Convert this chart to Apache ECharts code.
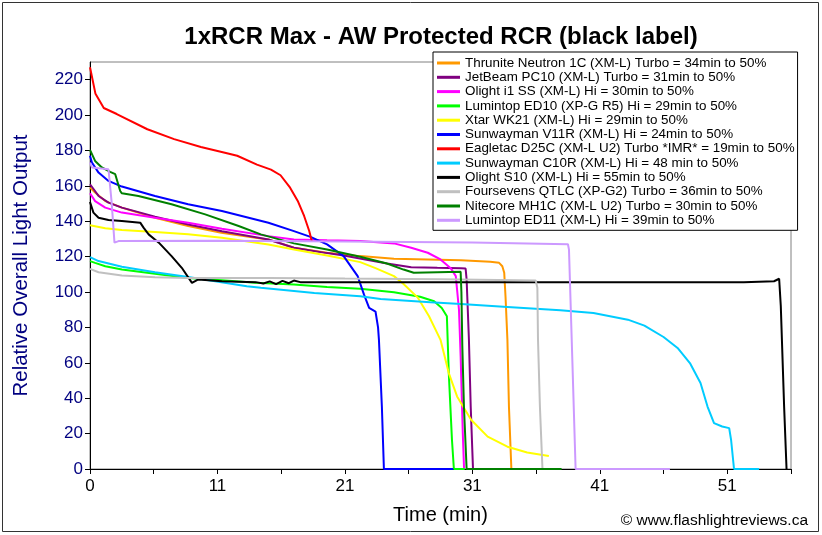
<!DOCTYPE html>
<html>
<head>
<meta charset="utf-8">
<script src="https://cdn.jsdelivr.net/npm/echarts@6/dist/echarts.min.js"></script>
<style>
html,body{margin:0;padding:0;background:#fff;}
#chart{width:822px;height:535px;}
</style>
</head>
<body>
<div id="chart"></div>
<script>
// ---- Data (x in axis units: 10 units between labelled ticks; y = relative output) ----
const xTickLabels = ["0", "11", "21", "31", "41", "51"];
const seriesNames = [
  "Thrunite Neutron 1C (XM-L) Turbo = 34min to 50%",
  "JetBeam PC10 (XM-L) Turbo = 31min to 50%",
  "Olight i1 SS (XM-L) Hi = 30min to 50%",
  "Lumintop ED10 (XP-G R5) Hi = 29min to 50%",
  "Xtar WK21 (XM-L) Hi = 29min to 50%",
  "Sunwayman V11R (XM-L) Hi = 24min to 50%",
  "Eagletac D25C (XM-L U2) Turbo *IMR* = 19min to 50%",
  "Sunwayman C10R (XM-L) Hi = 48 min to 50%",
  "Olight S10 (XM-L) Hi = 55min to 50%",
  "Foursevens QTLC (XP-G2) Turbo = 36min to 50%",
  "Nitecore MH1C (XM-L U2) Turbo = 30min to 50%",
  "Lumintop ED11 (XM-L) Hi = 39min to 50%"
];
const seriesColors = ["#ff9900","#800080","#ff00ff","#00ff00","#ffff00","#0000ff","#ff0000","#00ccff","#000000","#c0c0c0","#008000","#cc99ff"];

const thrunite = [[0,159],[0.4,156.2],[1.2,151.4],[2.5,147.7],[5.1,142],[7.7,137.3],[10.3,133.5],[13,130.7],[14,129.7],[16,125],[18.6,122.2],[21.2,120.3],[23.85,118.8],[26.5,118.4],[29.1,118],[31.4,117.1],[32.1,116.5],[32.35,114.6],[32.5,110.9],[32.6,97.6],[32.75,73],[32.87,35.3],[33.06,0]];
const jetbeam = [[0,160.9],[0.67,154.3],[1.45,150.5],[2.5,147.7],[5.1,142.6],[7.7,138.2],[10.35,134.4],[14,129.7],[16,125],[18.6,122],[19.9,120.7],[23.3,116.1],[25.2,114],[27.25,113.7],[29.1,113.5],[29.47,113.3],[29.55,107],[29.6,97.6],[29.73,73],[29.87,35.3],[30.05,0]];
const olightI1 = [[0,155.8],[0.4,151.4],[1.2,147.7],[2.5,144.9],[5.1,142],[7.7,139.2],[10.35,135.8],[14,131.6],[16,129.7],[18.6,129.2],[21.2,128.8],[23.85,127.5],[25.2,125],[26.5,122.2],[27.5,118.4],[28.3,113.5],[28.7,109],[28.8,101.4],[28.95,90],[29.08,63.6],[29.25,20],[29.35,0]];
const lumintopED10 = [[0,117.5],[0.4,116.5],[1.2,114.6],[2.5,112.7],[5.1,110.3],[7.7,108],[10.35,106.7],[13,105.2],[16,104.2],[18.6,102.9],[21.2,101.8],[23.85,99.9],[25.9,97.3],[27,94.8],[27.6,91],[28,86.3],[28.15,54.2],[28.4,16.4],[28.55,0],[29.4,0]];
const xtar = [[0,137.7],[1.2,136],[2.5,135],[5.1,133.9],[7.7,132.6],[10.35,130.7],[14,126.9],[16,124.1],[18.6,120.7],[21.2,116.9],[22.4,113.5],[23.85,109],[24.6,104.5],[25.7,97],[26.6,86.3],[27.5,73],[28.15,54.2],[28.8,41],[29.9,27.8],[31.2,18.3],[32.75,12.6],[34.3,9.3],[36,7.4]];
const sunwaymanV11R = [[0,177],[0.15,173.2],[0.67,167.5],[1.45,162.8],[2.5,159.6],[5.1,154.3],[7.7,149.6],[10.35,145.8],[14,139.2],[16,134.4],[17.3,131.2],[18.6,126.9],[19.9,120.3],[21,109],[21.5,98.5],[21.9,91],[22.4,89],[22.6,80],[22.67,73],[22.9,35.3],[23.06,0],[28.5,0]];
const eagletac = [[0,227],[0.43,212],[1.08,204],[2.1,200.6],[4.5,192],[6.6,186.4],[8.7,182],[10.5,178.9],[11.55,177],[13.1,172],[14.2,169.2],[14.95,166],[15.7,159],[16.3,151.5],[16.8,143],[17.2,134.5],[17.4,128.8]];
const sunwaymanC10R = [[0,119.7],[0.67,117.5],[2.5,114.3],[5.1,111.2],[7.7,108.5],[12.3,103.3],[13.4,102.4],[17.6,99.5],[21.2,97.6],[22.8,96.1],[26.7,94.2],[29.1,93.3],[32.75,91.6],[36.9,89.7],[39.5,88.2],[42.2,84.4],[43.5,81],[45,74.6],[46.1,68.4],[47.1,59.5],[47.9,48.6],[48.45,35.3],[48.96,25.9],[49.6,24],[50.15,23.1],[50.3,16.4],[50.53,0],[52.5,0]];
const olightS10 = [[0,150.9],[0.27,144.9],[0.67,142],[1.45,140.7],[2.5,140.1],[3.94,139.2],[4.2,136.4],[4.6,132.6],[5.4,127.9],[6.4,120.3],[7.2,113.7],[8,105.2],[8.5,107.1],[10.35,106.1],[13,105.6],[13.6,104.8],[14.1,106],[14.6,104.5],[15.1,106.3],[15.6,105],[16,106.5],[16.5,105.6],[26.7,105.6],[51.3,105.6],[53.67,106.1],[54.07,107.5],[54.2,92],[54.46,35.3],[54.65,0]];
const foursevens = [[0,113.1],[0.67,111.2],[2.5,109.3],[5.1,108.4],[7.7,108],[14,108],[20,107.6],[27.5,107.2],[34.97,106.5],[35.1,102.4],[35.15,73],[35.3,35.3],[35.5,0]];
const nitecore = [[0,180.3],[0.4,174.1],[0.93,170.4],[1.58,167.9],[1.98,166.6],[2.37,157.1],[2.5,155.8],[3.8,154.3],[6.4,149.6],[9.04,143.9],[11.66,137.3],[13.4,132.6],[16,127.5],[18.6,124],[21.2,119.9],[23.3,116.1],[24.6,112.7],[25.4,110.9],[27.25,111.2],[29.08,111.5],[29.14,100],[29.21,70],[29.34,35],[29.55,0],[37,0]];
const lumintopED11 = [[0,173.2],[0.15,170.4],[1.45,169.4],[1.7,150.5],[1.92,127.9],[2.24,128.8],[10,129],[20,128.6],[30,128],[37.5,127],[37.58,124],[37.85,60],[38.1,0],[45.5,0]];

const seriesData = [thrunite, jetbeam, olightI1, lumintopED10, xtar, sunwaymanV11R, eagletac, sunwaymanC10R, olightS10, foursevens, nitecore, lumintopED11];

const chart = echarts.init(document.getElementById('chart'), null, {renderer: 'canvas'});
const FONT = "'Liberation Sans', Arial, sans-serif";

const option = {
  backgroundColor: '#ffffff',
  animation: false,
  textStyle: {fontFamily: FONT},
  title: {
    text: '1xRCR Max - AW Protected RCR (black label)',
    left: 436, top: 20, textAlign: 'center',
    textStyle: {fontFamily: FONT, fontSize: 24, fontWeight: 'bold', color: '#000'}
  },
  grid: {left: 90, top: 62, right: 31, bottom: 66, show: true, borderColor: '#808080', borderWidth: 1, backgroundColor: '#fff'},
  legend: {
    orient: 'vertical', left: 433, top: 52,
    padding: [4, 3, 3, 4],
    icon: 'rect',
    itemWidth: 23, itemHeight: 3, itemGap: 0.3,
    backgroundColor: '#fff', borderColor: '#000', borderWidth: 1,
    textStyle: {fontFamily: FONT, fontSize: 13.4, color: '#000', lineHeight: 14},
    data: seriesNames
  },
  xAxis: {
    type: 'value', min: 0, max: 55, interval: 5,
    name: 'Time (min)', nameLocation: 'middle', nameGap: 36,
    nameTextStyle: {fontFamily: FONT, fontSize: 20, color: '#000'},
    axisLine: {show: true, onZero: false, lineStyle: {color: '#000', width: 1}},
    axisTick: {show: true, inside: false, length: 5, lineStyle: {color: '#000'}},
    axisLabel: {
      show: true, margin: 9, fontSize: 17, color: '#000', fontFamily: FONT,
      formatter: v => (Math.round(v) % 10 === 0 ? xTickLabels[Math.round(v) / 10] : '')
    },
    splitLine: {show: false}
  },
  yAxis: {
    type: 'value', min: 0, max: 230, interval: 20,
    name: 'Relative Overall Light Output', nameLocation: 'middle', nameGap: 58,
    nameTextStyle: {fontFamily: FONT, fontSize: 20.5, color: '#000080'},
    axisLine: {show: true, onZero: false, lineStyle: {color: '#000', width: 1}},
    axisTick: {show: true, inside: false, length: 5, lineStyle: {color: '#000'}},
    axisLabel: {show: true, margin: 7, fontSize: 17, color: '#000080', fontFamily: FONT, showMaxLabel: false},
    splitLine: {show: false}
  },
  graphic: [
    {type: 'rect', shape: {x: 2.5, y: 2.5, width: 816, height: 529}, style: {fill: 'none', stroke: '#333', lineWidth: 1}, silent: true, z: 0},
    {type: 'text', right: 14, top: 513, style: {text: '\u00a9 www.flashlightreviews.ca', fontFamily: FONT, fontSize: 15.5, fill: '#000'}, z: 10}
  ],
  series: seriesData.map((d, i) => ({
    name: seriesNames[i],
    type: 'line',
    data: d,
    symbol: 'none',
    showSymbol: false,
    smooth: false,
    clip: true,
    color: seriesColors[i],
    lineStyle: {color: seriesColors[i], width: 2},
    z: 2 + i * 0.01
  }))
};
chart.setOption(option);
</script>
</body>
</html>
